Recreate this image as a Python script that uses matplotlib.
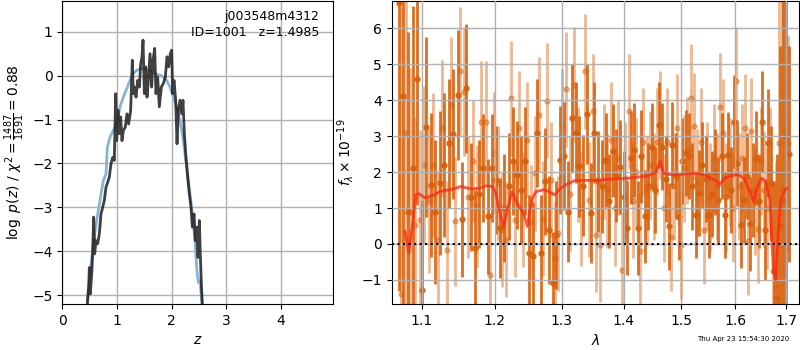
import numpy as np
import matplotlib
matplotlib.use("Agg")
import matplotlib.pyplot as plt
from matplotlib.ticker import NullLocator, FixedLocator, FixedFormatter

# ---------------- left panel: log p(z) ----------------
pz_z = [0.457, 0.482, 0.494, 0.512, 0.537, 0.555, 0.573, 0.591, 0.616, 0.646,
        0.677, 0.707, 0.738, 0.768, 0.799, 0.829, 0.860, 0.890, 0.921, 0.951,
        0.976, 0.994, 1.018, 1.043, 1.067, 1.091, 1.116, 1.152, 1.183, 1.213,
        1.250, 1.280, 1.299, 1.323, 1.348, 1.378, 1.409, 1.433, 1.457, 1.476,
        1.500, 1.524, 1.549, 1.573, 1.604, 1.634, 1.659, 1.689, 1.713, 1.744,
        1.774, 1.811, 1.848, 1.884, 1.915, 1.945, 1.976, 2.000, 2.018, 2.043,
        2.073, 2.098, 2.122, 2.152, 2.183, 2.207, 2.232, 2.262, 2.293, 2.323,
        2.354, 2.378, 2.409, 2.433, 2.457, 2.482, 2.506, 2.524, 2.543, 2.561]
pz_logp = [-5.22, -4.82, -4.37, -4.97, -4.52, -4.06, -3.22, -4.06, -3.76, -3.83,
           -3.60, -3.15, -3.00, -2.84, -2.54, -2.43, -2.31, -2.01, -1.86, -1.93,
           -0.41, -1.48, -0.79, -1.32, -0.94, -1.48, -1.25, -1.17, -0.87, -1.10,
           -0.79, 0.35, -0.41, -0.26, -0.49, -0.11, -0.26, 0.27, 0.43, 0.81,
           -0.41, 0.20, -0.49, -0.11, 0.50, -0.26, 0.35, 0.62, -0.41, -0.03,
           -0.71, -0.26, -0.18, -0.03, 0.43, 0.20, 0.50, 0.58, -0.41, -0.11,
           -0.56, -1.55, -0.79, -0.56, -0.87, -0.56, -1.32, -1.86, -2.31, -2.69,
           -3.00, -3.45, -3.15, -3.76, -3.45, -4.14, -3.30, -4.06, -4.75, -5.22]

prior_z = [0.457, 0.506, 0.567, 0.628, 0.689, 0.750, 0.799, 0.823, 0.872, 0.933,
           0.994, 1.055, 1.116, 1.177, 1.238, 1.299, 1.360, 1.421, 1.482, 1.543,
           1.604, 1.665, 1.726, 1.787, 1.848, 1.909, 1.970, 2.030, 2.091, 2.152,
           2.213, 2.274, 2.335, 2.384, 2.427, 2.457, 2.488, 2.518, 2.549, 2.561]
prior_logp = [-5.13, -4.52, -3.83, -3.30, -2.84, -2.39, -2.24, -1.63, -1.40, -1.25,
              -1.10, -0.71, -0.49, -0.30, -0.11, 0.05, 0.12, 0.15, 0.16, 0.14,
              0.11, 0.07, 0.03, 0.01, -0.03, -0.11, -0.26, -0.49, -0.71, -1.02,
              -1.48, -2.08, -2.69, -3.22, -3.76, -4.37, -4.71, -4.67, -5.13, -5.22]

# ---------------- right panel: spectrum ----------------
# beam A (dark)
wave_a = [1.070, 1.076, 1.082, 1.088, 1.094, 1.100, 1.106, 1.112, 1.118, 1.124,
          1.130, 1.136, 1.142, 1.148, 1.154, 1.160, 1.166, 1.172, 1.178, 1.184,
          1.190, 1.196, 1.202, 1.208, 1.214, 1.220, 1.226, 1.232, 1.238, 1.244,
          1.250, 1.256, 1.262, 1.268, 1.274, 1.280, 1.286, 1.292, 1.298, 1.304,
          1.310, 1.316, 1.322, 1.328, 1.334, 1.340, 1.346, 1.352, 1.358, 1.364,
          1.370, 1.376, 1.382, 1.388, 1.394, 1.400, 1.406, 1.412, 1.418, 1.424,
          1.430, 1.436, 1.442, 1.448, 1.454, 1.460, 1.466, 1.472, 1.478, 1.484,
          1.490, 1.496, 1.502, 1.508, 1.514, 1.520, 1.526, 1.532, 1.538, 1.544,
          1.550, 1.556, 1.562, 1.568, 1.574, 1.580, 1.586, 1.592, 1.598, 1.604,
          1.610, 1.616, 1.622, 1.628, 1.634, 1.640, 1.646, 1.652, 1.658, 1.664,
          1.670, 1.676, 1.682, 1.688, 1.694, 1.700, 1.706]
flux_a = [6.70, 4.13, 0.89, 2.11, 4.58, -1.27, 3.25, 1.65, 0.89, 1.70,
          2.20, 2.80, 3.06, 4.15, 0.69, 4.33, 1.30, -0.11, 1.39, 2.11,
          0.77, 2.11, 1.79, 0.44, 1.00, 1.60, 2.31, 1.93, 1.51, 2.30,
          -0.25, -0.34, 3.08, -0.25, 1.74, 0.40, -1.08, 0.26, 2.34, 2.44,
          0.90, 3.50, 3.10, 2.16, 1.62, 3.62, 0.86, 3.10, 1.74, 1.60,
          2.34, 1.20, 2.60, 1.90, 2.14, 1.30, 0.44, 2.40, 2.62, 0.44,
          2.44, 0.77, 1.60, 2.71, 1.51, 3.31, 2.71, 1.80, 0.49, 2.76,
          1.90, 0.75, 2.30, 2.53, 2.44, 1.60, 0.81, 1.42, 2.20, 1.80,
          0.81, 1.40, 2.00, 1.23, 2.44, 0.81, 2.48, 1.50, 3.40, 2.25,
          0.54, 1.23, 1.90, 0.56, 1.50, 2.39, 1.20, 3.40, 0.40, 2.80,
          1.69, -0.76, -1.50, 0.50, 1.20, 3.00, 2.50]
err_a = [8.0, 6.0, 5.0, 4.5, 3.5, 2.5, 2.5, 2.0, 2.0, 2.0,
         2.0, 1.8, 1.8, 1.8, 1.6, 1.8, 1.5, 1.6, 1.5, 1.5,
         1.6, 1.5, 1.5, 1.4, 1.5, 1.5, 1.5, 1.5, 1.5, 1.5,
         1.6, 1.5, 1.5, 1.6, 1.5, 1.5, 1.4, 1.5, 1.5, 1.5,
         1.4, 1.5, 1.4, 1.4, 1.4, 1.4, 1.4, 1.4, 1.4, 1.3,
         1.3, 1.3, 1.3, 1.3, 1.3, 1.3, 1.3, 1.3, 1.3, 1.3,
         1.3, 1.3, 1.2, 1.2, 1.2, 1.2, 1.2, 1.2, 1.2, 1.2,
         1.2, 1.2, 1.2, 1.2, 1.2, 1.2, 1.2, 1.2, 1.2, 1.2,
         1.2, 1.2, 1.2, 1.2, 1.2, 1.2, 1.2, 1.2, 1.3, 1.2,
         1.2, 1.2, 1.2, 1.3, 1.3, 1.3, 1.3, 1.4, 1.4, 1.5,
         1.6, 2.5, 4.0, 5.0, 6.0, 8.0, 3.0]

# beam B (light)
wave_b = [1.073, 1.079, 1.085, 1.091, 1.097, 1.103, 1.109, 1.115, 1.121, 1.127,
          1.133, 1.139, 1.145, 1.151, 1.157, 1.163, 1.169, 1.175, 1.181, 1.187,
          1.193, 1.199, 1.205, 1.211, 1.217, 1.223, 1.229, 1.235, 1.241, 1.247,
          1.253, 1.259, 1.265, 1.271, 1.277, 1.283, 1.289, 1.295, 1.301, 1.307,
          1.313, 1.319, 1.325, 1.331, 1.337, 1.343, 1.349, 1.355, 1.361, 1.367,
          1.373, 1.379, 1.385, 1.391, 1.397, 1.403, 1.409, 1.415, 1.421, 1.427,
          1.433, 1.439, 1.445, 1.451, 1.457, 1.463, 1.469, 1.475, 1.481, 1.487,
          1.493, 1.499, 1.505, 1.511, 1.517, 1.523, 1.529, 1.535, 1.541, 1.547,
          1.553, 1.559, 1.565, 1.571, 1.577, 1.583, 1.589, 1.595, 1.601, 1.607,
          1.613, 1.619, 1.625, 1.631, 1.637, 1.643, 1.649, 1.655, 1.661, 1.667,
          1.673, 1.679, 1.685, 1.691, 1.697, 1.703]
flux_b = [-1.40, 3.10, 0.90, 0.54, 0.68, 2.20, 1.20, 2.20, 0.12, 3.22,
          -0.16, 3.87, 0.63, 4.80, 4.24, 1.30, 2.30, 1.05, 3.38, 3.38,
          -0.85, 2.53, 1.69, 0.40, 0.12, 4.06, 0.68, 3.22, 0.95, 2.90,
          0.60, 1.97, 3.59, 0.70, 3.98, 1.79, -0.40, 0.30, 3.27, 4.30,
          1.40, 4.43, 2.20, 1.00, 4.80, 1.23, 3.69, 0.26, -0.02, 2.30,
          1.50, 2.90, 1.00, 2.40, -0.71, 1.80, 3.69, 1.20, 2.00, -0.20,
          2.85, 1.50, 2.20, 1.60, 2.85, 3.30, 1.00, 2.85, 0.20, 1.60,
          3.22, -0.02, 2.10, 2.60, 4.07, 3.27, 1.70, 2.85, 0.40, 1.90,
          1.30, 2.40, 1.60, 3.80, 3.08, 1.30, 2.00, 1.00, 4.54, 1.60,
          2.40, 3.22, 0.07, 3.13, 1.20, 0.42, 2.30, 1.51, 1.00, 2.00,
          -0.76, -1.20, 2.80, 1.50, 3.20, 2.80]
err_b = [8.0, 6.0, 4.0, 3.0, 2.5, 2.2, 2.0, 2.0, 1.9, 1.9,
         1.9, 1.9, 1.8, 1.8, 1.8, 1.7, 1.7, 1.7, 1.7, 1.7,
         1.7, 1.7, 1.6, 1.6, 1.6, 1.6, 1.6, 1.6, 1.6, 1.6,
         1.6, 1.6, 1.6, 1.6, 1.6, 1.6, 1.6, 1.6, 1.6, 1.6,
         1.6, 1.6, 1.6, 1.6, 1.6, 1.6, 1.6, 1.6, 1.6, 1.6,
         1.6, 1.6, 1.6, 1.6, 1.6, 1.6, 1.6, 1.6, 1.5, 1.6,
         1.5, 1.5, 1.5, 1.5, 1.5, 1.5, 1.5, 1.5, 1.5, 1.5,
         1.5, 1.5, 1.5, 1.5, 1.5, 1.5, 1.5, 1.5, 1.5, 1.5,
         1.5, 1.5, 1.5, 1.5, 1.5, 1.5, 1.5, 1.5, 1.5, 1.5,
         1.5, 1.5, 1.5, 1.5, 1.5, 1.5, 1.5, 1.6, 1.7, 1.8,
         2.5, 3.5, 5.0, 6.0, 7.0, 3.0]

# model
model_wave = [1.078, 1.083, 1.0875, 1.092, 1.096, 1.104, 1.115, 1.124, 1.140, 1.153,
              1.167, 1.178, 1.188, 1.197, 1.2015, 1.207, 1.213, 1.219, 1.225, 1.231,
              1.237, 1.242, 1.248, 1.2515, 1.256, 1.261, 1.274, 1.281, 1.289, 1.299,
              1.310, 1.320, 1.335, 1.352, 1.375, 1.397, 1.419, 1.442, 1.455, 1.4627,
              1.4685, 1.480, 1.496, 1.510, 1.526, 1.540, 1.551, 1.565, 1.570, 1.5793,
              1.590, 1.6017, 1.610, 1.6178, 1.625, 1.6355, 1.643, 1.6508, 1.6594, 1.6674,
              1.6741, 1.6789, 1.6842, 1.689, 1.6978, 1.702]
model_flux = [0.35, -0.25, 0.50, 1.37, 1.40, 1.28, 1.35, 1.46, 1.52, 1.60,
              1.53, 1.55, 1.62, 1.60, 1.42, 0.90, 0.49, 1.00, 1.46, 1.20,
              1.00, 0.85, 0.49, 0.95, 1.30, 1.46, 1.51, 1.45, 1.37, 1.56,
              1.68, 1.76, 1.77, 1.77, 1.80, 1.82, 1.85, 1.90, 2.00, 2.30,
              1.97, 1.93, 1.93, 1.95, 1.97, 1.93, 1.85, 1.75, 1.65, 1.83,
              1.88, 1.93, 1.90, 1.79, 1.55, 1.19, 1.60, 1.83, 1.74, 1.23,
              -0.62, -0.99, 0.31, 1.23, 1.51, 1.55]

lam_ticks = [1.1, 1.2, 1.3, 1.4, 1.5, 1.6, 1.7]
lam_ticklabels = ['1.1', '1.2', '1.3', '1.4', '1.5', '1.6', '1.7']

title_text = "j003548m4312\nID=1001   z=1.4985"
date_text = "Thu Apr 23 15:54:30 2020"

# ---------------- figure ----------------
fig = plt.figure(figsize=(8, 3.5), dpi=100)
ax1 = fig.add_axes([0.0779, 0.1314, 0.3383, 0.8658])
ax2 = fig.add_axes([0.4896, 0.1314, 0.5092, 0.8658])

ax1.plot(prior_z, prior_logp, color='#86b5d8', lw=2, zorder=2)
ax1.plot(pz_z, pz_logp, color='#1e1e1e', lw=2, alpha=0.85, zorder=3)
ax1.set_xlim(0, 4.95)
ax1.set_ylim(-5.2, 1.70)
ax1.set_xticks([0, 1, 2, 3, 4])
ax1.set_yticks([-5, -4, -3, -2, -1, 0, 1])
ax1.grid(True, color='#b0b0b0', lw=1)
ax1.set_xlabel('$z$')
ax1.set_ylabel(r'$\log\ p(z)$ / $\chi^2=\frac{1487}{1691}=0.88$')
ax1.text(0.95, 0.97, title_text, ha='right', va='top', transform=ax1.transAxes,
         fontsize=9, linespacing=1.25)

base = '#d9600a'
ax2.errorbar(wave_a, flux_a, yerr=err_a, color=base, alpha=0.9, marker='.',
             ms=7, linestyle='None', elinewidth=2.0, zorder=2)
ax2.errorbar(wave_b, flux_b, yerr=err_b, color=base, alpha=0.45, marker='.',
             ms=7, linestyle='None', elinewidth=2.0, zorder=2)
ax2.plot(model_wave, model_flux, color='#ff2a14', lw=2, alpha=0.8, zorder=4)
ax2.axhline(0, color='k', ls=':', lw=1.5, zorder=4)
ax2.set_xscale('log')
ax2.set_xlim(1.061, 1.7265)
ax2.set_ylim(-1.67, 6.76)
ax2.xaxis.set_major_locator(FixedLocator(lam_ticks))
ax2.xaxis.set_major_formatter(FixedFormatter(lam_ticklabels))
ax2.xaxis.set_minor_locator(NullLocator())
ax2.set_yticks([-1, 0, 1, 2, 3, 4, 5, 6])
ax2.set_axisbelow(False)
ax2.grid(True, color='#b0b0b0', lw=1, zorder=3)
ax2.set_xlabel(r'$\lambda$')
ax2.set_ylabel(r'$f_\lambda\times10^{-19}$')

fig.text(0.987, 0.022, date_text, ha='right', va='bottom', fontsize=5)

fig.savefig('out.png', dpi=100)
